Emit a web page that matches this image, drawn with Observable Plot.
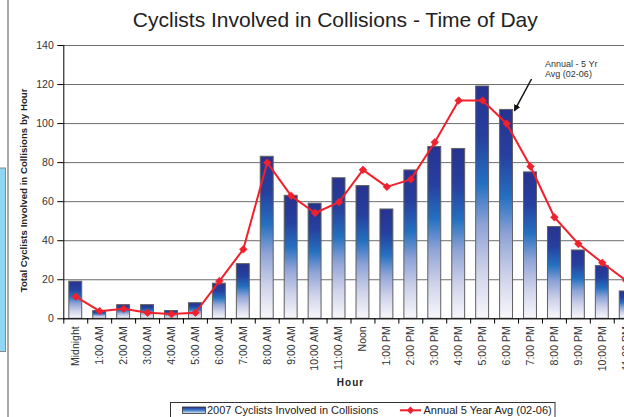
<!DOCTYPE html>
<html>
<head>
<meta charset="utf-8">
<script src="https://cdn.jsdelivr.net/npm/d3@7"></script>
<script src="https://cdn.jsdelivr.net/npm/@observablehq/plot@0.6"></script>
<style>
  html, body { margin: 0; padding: 0; background: #fff; overflow: hidden; }
  #wrap { position: relative; width: 624px; height: 417px; overflow: hidden; }
  #wrap svg { display: block; overflow: hidden; }
</style>
</head>
<body>
<div id="wrap"></div>
<script>
// ---- data ----
const hours = ["Midnight", "1:00 AM", "2:00 AM", "3:00 AM", "4:00 AM", "5:00 AM", "6:00 AM", "7:00 AM",
  "8:00 AM", "9:00 AM", "10:00 AM", "11:00 AM", "Noon", "1:00 PM", "2:00 PM", "3:00 PM", "4:00 PM",
  "5:00 PM", "6:00 PM", "7:00 PM", "8:00 PM", "9:00 PM", "10:00 PM", "11:00 PM"];
const collisions2007 = [19, 4, 7, 7, 4, 8, 18, 28, 83, 63, 59, 72, 68, 56, 76, 88, 87, 119, 107, 75, 47, 35, 27, 14];
const avg5yr = [11.4, 3.9, 5.1, 3.1, 2.4, 3.1, 19.3, 35.6, 80, 63, 54.2, 59.8, 76.3, 67.6, 71.4, 90.4, 111.8, 111.8, 100, 78, 52, 38.4, 28.7, 19.6];
const yTicks = [0, 20, 40, 60, 80, 100, 120, 140];

const titleText = "Cyclists Involved in Collisions - Time of Day";
const yTitle = "Total Cyclists Involved in Collisions by Hour";
const xTitle = "Hour";
const barLabel = "2007 Cyclists Involved in Collisions";
const lineLabel = "Annual 5 Year Avg (02-06)";
const noteLines = ["Annual - 5 Yr", "Avg (02-06)"];
const noteHour = "6:00 PM";

const rows = hours.map((h, i) => ({hour: h, count: collisions2007[i], avg: avg5yr[i]}));

const FONT = "'Liberation Sans', Arial, Helvetica, sans-serif";
const RED = "#f0202c";
const left = 63.3, right = 637.7;          // plot area runs past the right edge (clipped like the source)
const step = (right - left) / hours.length;

const chart = Plot.plot({
  width: 624,
  height: 417,
  marginTop: 45,
  marginBottom: 98.7,
  marginLeft: left,
  marginRight: 0,
  style: {fontFamily: FONT, background: "#fff", color: "#333", overflow: "hidden"},
  x: {domain: hours, range: [left, right], paddingInner: 0.46, paddingOuter: 0.23, round: false},
  y: {domain: [0, 140]},
  marks: [
    Plot.ruleY(yTicks, {stroke: "#6e6e6e", strokeWidth: 1}),
    Plot.barY(rows, {x: "hour", y: "count", fill: "url(#barGrad)", stroke: "#606060", strokeWidth: 1}),
    Plot.line(rows, {x: "hour", y: "avg", stroke: RED, strokeWidth: 2}),
    Plot.dot(rows, {x: "hour", y: "avg", symbol: "square", rotate: 45, r: 3.1, fill: RED, stroke: RED, strokeWidth: 0.5}),
    Plot.axisY({ticks: yTicks, tickSize: 6, tickPadding: 4, fontSize: 10.5, stroke: "#000", label: null}),
    Plot.axisX({tickSize: 0, tickPadding: 7.5, tickRotate: -90, fontSize: 10.5, label: null}),
    Plot.ruleX(hours, {x: d => d, y1: 0, y2: -2.7, dx: -step / 2, stroke: "#000"}),
    Plot.ruleY([0], {stroke: "#000"}),
    Plot.frame({anchor: "left", stroke: "#000"})
  ]
});

const svg = d3.select(chart);

// bar gradient
const defs = svg.insert("defs", ":first-child");
const g = defs.append("linearGradient").attr("id", "barGrad")
  .attr("x1", 0).attr("y1", 0).attr("x2", 0).attr("y2", 1);
[[0, "#283290"], [0.22, "#26409e"], [0.42, "#2470c0"], [0.6, "#8fa3d6"], [0.8, "#cfd3ea"], [1, "#f7f7fb"]]
  .forEach(([o, c]) => g.append("stop").attr("offset", o).attr("stop-color", c));
const lg = defs.append("linearGradient").attr("id", "swGrad")
  .attr("x1", 0).attr("y1", 0).attr("x2", 0).attr("y2", 1);
[[0, "#283290"], [0.5, "#3f7fc8"], [1, "#e8ecf7"]]
  .forEach(([o, c]) => lg.append("stop").attr("offset", o).attr("stop-color", c));

// left page decorations
svg.append("rect").attr("x", -2).attr("y", 168).attr("width", 7.5).attr("height", 183.5)
  .attr("fill", "#8fd6f4").attr("stroke", "#8a8a8a").attr("stroke-width", 1);
svg.append("line").attr("x1", 8).attr("x2", 8).attr("y1", 0).attr("y2", 417)
  .attr("stroke", "#8c8c8c").attr("stroke-width", 1.5);

// title
svg.append("text").attr("x", 335.3).attr("y", 26.7).attr("text-anchor", "middle")
  .attr("font-family", FONT).attr("font-size", 21).attr("fill", "#222").text(titleText);

// axis titles
svg.append("text").attr("transform", "translate(27,190.4) rotate(-90)").attr("text-anchor", "middle")
  .attr("font-family", FONT).attr("font-size", 9.7).attr("font-weight", "bold").attr("fill", "#222").text(yTitle);
svg.append("text").attr("x", (left + right) / 2).attr("y", 386).attr("text-anchor", "middle")
  .attr("font-family", FONT).attr("font-size", 10).attr("font-weight", "bold").attr("letter-spacing", 1)
  .attr("fill", "#222").text(xTitle);

// annotation anchored through the scales
const sx = chart.scale("x"), sy = chart.scale("y");
const bx = sx.apply(noteHour);
const barRight = bx + sx.bandwidth;
const barTop = sy.apply(collisions2007[hours.indexOf(noteHour)]);
const ann = svg.append("g").attr("font-family", FONT).attr("font-size", 9).attr("fill", "#333")
  .attr("text-anchor", "start");
noteLines.forEach((t, i) => ann.append("text").attr("x", barRight + 32.5).attr("y", 66.7 + i * 10.6).text(t));
defs.append("marker").attr("id", "ah").attr("viewBox", "0 0 10 10").attr("refX", 9).attr("refY", 5)
  .attr("markerWidth", 4.5).attr("markerHeight", 4.5).attr("orient", "auto-start-reverse")
  .append("path").attr("d", "M0,0L10,5L0,10z").attr("fill", "#111");
svg.append("line").attr("x1", barRight + 19).attr("y1", 79).attr("x2", barRight + 1.8).attr("y2", barTop + 1.4)
  .attr("stroke", "#111").attr("stroke-width", 1.5).attr("marker-end", "url(#ah)");

// legend
const leg = svg.append("g").attr("font-family", FONT).attr("font-size", 11).attr("fill", "#222")
  .attr("text-anchor", "start");
leg.append("rect").attr("x", 170.5).attr("y", 402.5).attr("width", 384.5).attr("height", 30)
  .attr("fill", "#fff").attr("stroke", "#333");
leg.append("rect").attr("x", 182.5).attr("y", 407).attr("width", 23).attr("height", 6.5)
  .attr("fill", "url(#swGrad)").attr("stroke", "#333").attr("stroke-width", 0.8);
leg.append("text").attr("x", 207).attr("y", 414.3).text(barLabel);
leg.append("line").attr("x1", 400).attr("x2", 421).attr("y1", 410.3).attr("y2", 410.3)
  .attr("stroke", RED).attr("stroke-width", 2);
leg.append("rect").attr("x", -2.6).attr("y", -2.6).attr("width", 5.2).attr("height", 5.2)
  .attr("transform", "translate(410.5,410.3) rotate(45)").attr("fill", RED);
leg.append("text").attr("x", 423.5).attr("y", 414.3).text(lineLabel);

document.getElementById("wrap").appendChild(chart);
</script>
</body>
</html>
